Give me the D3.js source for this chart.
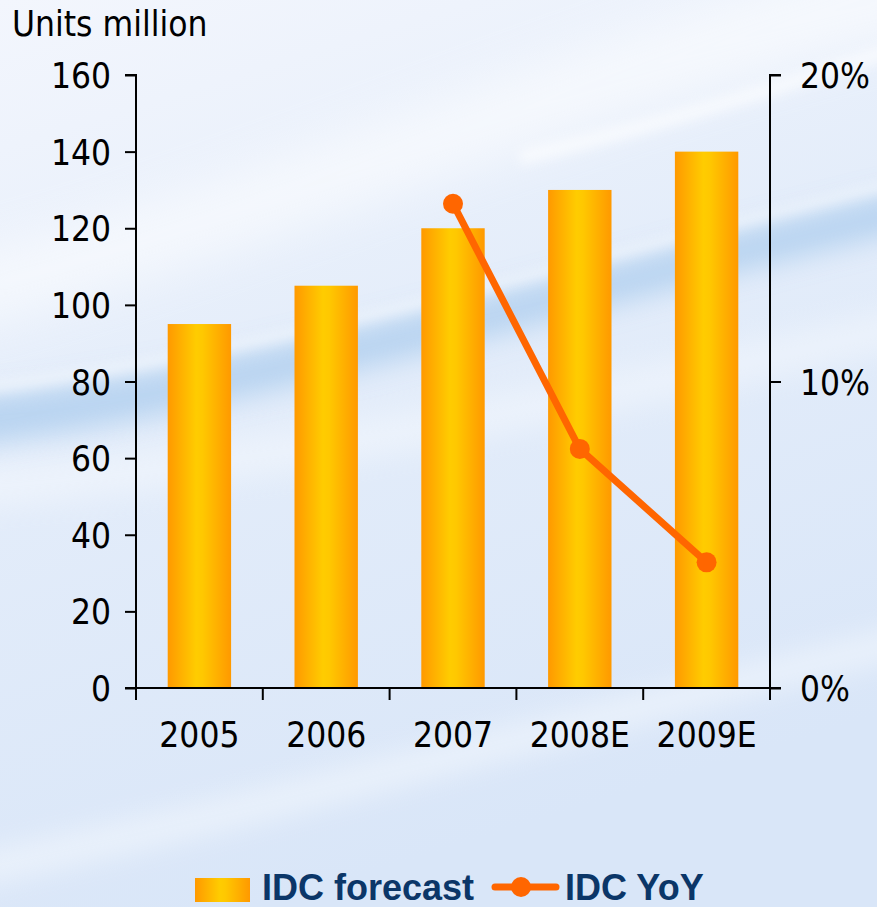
<!DOCTYPE html>
<html>
<head>
<meta charset="utf-8">
<script src="https://cdn.jsdelivr.net/npm/d3@7"></script>
<style>
  html, body { margin: 0; padding: 0; background: #e6eefa; }
  svg { display: block; }
</style>
</head>
<body>
<svg id="chart" width="877" height="907"></svg>
<script>
// Shipments (units million) and year-on-year growth
const years = ["2005", "2006", "2007", "2008E", "2009E"];
const forecast = [95, 105, 120, 130, 140];
const yoyYears = ["2007", "2008E", "2009E"];
const yoy = [15.8, 7.8, 4.1];
const leftTicks = [0, 20, 40, 60, 80, 100, 120, 140, 160];
const rightTicks = [0, 10, 20];

const W = 877, H = 907;
const margin = { left: 136, right: 107, top: 75, bottom: 219 };
const svg = d3.select("#chart");
const defs = svg.append("defs");

// ---- background: pale blue with soft swooshes ----
const bg = defs.append("linearGradient").attr("id", "bg").attr("x1", 0).attr("y1", 0).attr("x2", 0.3).attr("y2", 1);
bg.append("stop").attr("offset", 0).attr("stop-color", "#f3f6fd");
bg.append("stop").attr("offset", 0.45).attr("stop-color", "#e4edfa");
bg.append("stop").attr("offset", 1).attr("stop-color", "#d9e6f8");
const blur = (id, s) => defs.append("filter").attr("id", id)
  .attr("x", "-20%").attr("y", "-50%").attr("width", "140%").attr("height", "200%")
  .append("feGaussianBlur").attr("stdDeviation", s);
blur("b6", 6); blur("b14", 14); blur("b25", 25);

svg.append("rect").attr("width", W).attr("height", H).attr("fill", "url(#bg)");
const swoosh = svg.append("g");
swoosh.append("path").attr("d", "M-50,330 C250,260 550,120 930,30 L930,-60 C550,40 250,190 -50,260 Z")
  .attr("fill", "#ffffff").attr("opacity", 0.55).attr("filter", "url(#b25)");
swoosh.append("path").attr("d", "M-50,400 C250,372 600,262 930,185 L930,225 C600,300 250,415 -50,448 Z")
  .attr("fill", "#a9cbed").attr("opacity", 0.75).attr("filter", "url(#b14)");
swoosh.append("path").attr("d", "M-50,385 C250,357 600,247 930,170 L930,180 C600,257 250,367 -50,397 Z")
  .attr("fill", "#ffffff").attr("opacity", 0.5).attr("filter", "url(#b6)");
swoosh.append("path").attr("d", "M520,150 C650,120 780,80 930,30 L930,45 C780,95 650,135 520,165 Z")
  .attr("fill", "#ffffff").attr("opacity", 0.6).attr("filter", "url(#b6)");
swoosh.append("path").attr("d", "M-50,860 C250,800 600,700 930,620 L930,650 C600,730 250,830 -50,890 Z")
  .attr("fill", "#ffffff").attr("opacity", 0.45).attr("filter", "url(#b14)");
swoosh.append("path").attr("d", "M-50,470 C250,450 600,380 930,300 L930,340 C600,420 250,490 -50,510 Z")
  .attr("fill", "#ffffff").attr("opacity", 0.35).attr("filter", "url(#b14)");

// ---- bar gradient ----
const bar = defs.append("linearGradient").attr("id", "barGrad").attr("x1", 0).attr("y1", 0).attr("x2", 1).attr("y2", 0);
bar.append("stop").attr("offset", 0).attr("stop-color", "#ff9900");
bar.append("stop").attr("offset", 0.45).attr("stop-color", "#ffcc00");
bar.append("stop").attr("offset", 0.55).attr("stop-color", "#ffc800");
bar.append("stop").attr("offset", 1).attr("stop-color", "#ff9900");

// ---- scales ----
const x = d3.scaleBand().domain(years).range([margin.left, W - margin.right]).padding(0);
const y = d3.scaleLinear().domain([0, 160]).range([H - margin.bottom, margin.top]);
const y2 = d3.scaleLinear().domain([0, 20]).range([H - margin.bottom, margin.top]);
const bw = x.bandwidth();

const axisFont = "'DejaVu Sans Condensed', 'DejaVu Sans', sans-serif";

// ---- bars ----
svg.append("g").selectAll("rect").data(years).join("rect")
  .attr("x", d => x(d) + bw * 0.25)
  .attr("width", bw * 0.5)
  .attr("y", (d, i) => y(forecast[i]))
  .attr("height", (d, i) => y(0) - y(forecast[i]))
  .attr("fill", "url(#barGrad)");

// ---- axes ----
const styleAxis = g => {
  g.selectAll("path, line").attr("stroke", "#000").attr("stroke-width", 2);
  g.selectAll("text").attr("fill", "#000").attr("font-family", axisFont).attr("font-size", 35);
};

svg.append("g").attr("transform", `translate(${margin.left},0)`)
  .call(d3.axisLeft(y).tickValues(leftTicks).tickSize(11).tickSizeOuter(11).tickPadding(14))
  .call(styleAxis)
  .call(g => g.select(".domain").attr("d", `M-11,${y(160)}H0V${y(0)}`))
  .call(g => g.selectAll("text").attr("dy", "0.36em"));

svg.append("g").attr("transform", `translate(${W - margin.right},0)`)
  .call(d3.axisRight(y2).tickValues(rightTicks).tickFormat(d => d + "%").tickSize(11).tickPadding(19))
  .call(styleAxis)
  .call(g => g.select(".domain").attr("d", `M11,${y2(20)}H0V${y2(0)}`))
  .call(g => g.selectAll("text").attr("dy", "0.36em"));

const xAxis = svg.append("g").attr("transform", `translate(0,${y(0)})`)
  .call(d3.axisBottom(x).tickSize(0).tickPadding(34))
  .call(styleAxis);
xAxis.select(".domain").attr("d", `M${margin.left - 11},0H${W - margin.right + 11}`);
xAxis.selectAll("text").attr("dy", "0.71em");
// separators between categories
const edges = years.map(d => x(d)).concat([W - margin.right]);
xAxis.append("g").selectAll("line").data(edges).join("line")
  .attr("x1", d => d).attr("x2", d => d).attr("y1", 0).attr("y2", 12)
  .attr("stroke", "#000").attr("stroke-width", 2);

// ---- YoY line ----
const pts = yoyYears.map((d, i) => [x(d) + bw / 2, y2(yoy[i])]);
svg.append("path").attr("d", d3.line()(pts))
  .attr("fill", "none").attr("stroke", "#ff6600").attr("stroke-width", 7).attr("stroke-linejoin", "round");
svg.append("g").selectAll("circle").data(pts).join("circle")
  .attr("cx", d => d[0]).attr("cy", d => d[1]).attr("r", 10).attr("fill", "#ff6600");

// ---- unit label ----
svg.append("text").attr("x", 12).attr("y", 36).text("Units million")
  .attr("font-family", axisFont).attr("font-size", 35).attr("fill", "#000");

// ---- legend ----
const lg = svg.append("g");
const legendFont = "'Liberation Sans', Arial, sans-serif";
lg.append("rect").attr("x", 195).attr("y", 878).attr("width", 55).attr("height", 24).attr("fill", "url(#barGrad)");
lg.append("text").attr("x", 262).attr("y", 900).text("IDC forecast")
  .attr("font-family", legendFont).attr("font-weight", "bold").attr("font-size", 36).attr("fill", "#0b3668");
lg.append("line").attr("x1", 495).attr("x2", 556).attr("y1", 887).attr("y2", 887)
  .attr("stroke", "#ff6600").attr("stroke-width", 7).attr("stroke-linecap", "round");
lg.append("circle").attr("cx", 521).attr("cy", 887).attr("r", 10).attr("fill", "#ff6600");
lg.append("text").attr("x", 565).attr("y", 900).text("IDC YoY")
  .attr("font-family", legendFont).attr("font-weight", "bold").attr("font-size", 36).attr("fill", "#0b3668");
</script>
</body>
</html>
